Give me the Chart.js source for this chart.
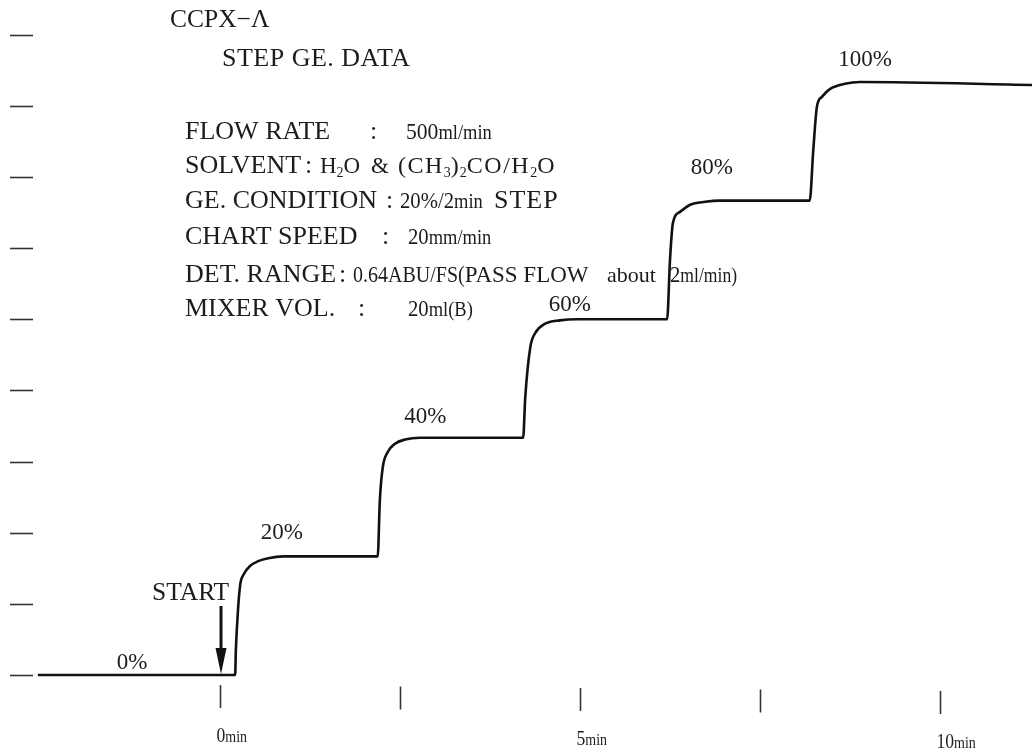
<!DOCTYPE html>
<html>
<head>
<meta charset="utf-8">
<script src="https://cdn.jsdelivr.net/npm/chart.js@4.4.1/dist/chart.umd.min.js"></script>
<style>
  html, body { margin: 0; padding: 0; background: #fff; }
  canvas { display: block; }
</style>
</head>
<body>
<canvas id="chart" width="1032" height="756"></canvas>
<script>
// Step gradient trace: time after start (min) vs. B-solvent concentration (%)
const timeMin = [
  -2.53, 0.21, 0.22, 0.25, 0.28, 0.33, 0.42, 0.53, 0.67, 0.88,
  2.19, 2.22, 2.26, 2.33, 2.43, 2.57, 2.78,
  4.21, 4.24, 4.31, 4.38, 4.51, 4.72, 4.96,
  6.21, 6.25, 6.29, 6.39, 6.53, 6.74, 6.94,
  8.19, 8.24, 8.29, 8.36, 8.47, 8.68, 8.89, 11.28
];
const gradientPct = [
  0, 0, 4.2, 11.0, 15.2, 17.0, 18.4, 19.2, 19.7, 20,
  20, 29.5, 35.0, 37.6, 39.0, 39.7, 40,
  40, 46.9, 55.3, 57.7, 59.2, 59.8, 60,
  60, 70.0, 76.2, 78.1, 79.3, 79.8, 80,
  80, 88.5, 95.8, 97.5, 98.8, 99.7, 100, 99.5
];

// Plateau labels
const stepLabels = ['0%', '20%', '40%', '60%', '80%', '100%'];

// Recorder chart-paper divisions (every 12 % of full scale) and time marks
const yTickPct = [0, 12, 24, 36, 48, 60, 72, 84, 96, 108];
const xTickMin = [0, 2.5, 5, 7.5, 10];
const xTickLabels = ['0', '', '5', '', '10'];
const xTickUnit = 'min';

const titleLines = ['CCPX\u2212\u039B', 'STEP GE. DATA'];

const SERIF = '"Liberation Serif", "Times New Roman", serif';
const INK = '#1c1c1c';

// Run-based text: subscripts and the small unit glyphs stay real text.
// {at} jumps to an absolute x, {gap} adds space, s = size, sx = horizontal squeeze, ls = letter spacing
const M = 26, N = 23, U = 21, S = 14;
const conditionLines = [
  [{t: 'FLOW RATE', s: M}, {at: 370}, {t: ':', s: M}, {at: 406}, {t: '500', s: 24, sx: 0.9}, {t: 'ml/min', s: U, sx: 0.88}],
  [{t: 'SOLVENT', s: M}, {at: 305}, {t: ':', s: M}, {at: 320}, {t: 'H', s: N}, {t: '2', s: S, dy: 4}, {t: 'O', s: N},
   {at: 371}, {t: '&', s: N}, {at: 398}, {t: '(CH', s: 24, ls: 1.5}, {t: '3', s: S, dy: 4}, {t: ')', s: 24, ls: 1}, {t: '2', s: S, dy: 4},
   {t: 'CO/H', s: 24, ls: 1.5}, {t: '2', s: S, dy: 4}, {t: 'O', s: 24}],
  [{t: 'GE. CONDITION', s: M}, {at: 386}, {t: ':', s: M}, {at: 400}, {t: '20%/2', s: N, sx: 0.9}, {t: 'min', s: U, sx: 0.88},
   {at: 494}, {t: 'STEP', s: M, ls: 1}],
  [{t: 'CHART SPEED', s: M}, {at: 382}, {t: ':', s: M}, {at: 408}, {t: '20', s: N, sx: 0.9}, {t: 'mm/min', s: U, sx: 0.88}],
  [{t: 'DET. RANGE', s: M}, {at: 339}, {t: ':', s: M}, {at: 353}, {t: '0.64ABU/FS(', s: N, sx: 0.87}, {t: 'PASS FLOW', s: N},
   {at: 607}, {t: 'about', s: 22}, {at: 670}, {t: '2', s: N, sx: 0.9}, {t: 'ml/min)', s: 20, sx: 0.88}],
  [{t: 'MIXER VOL.', s: M}, {at: 358}, {t: ':', s: M}, {at: 408}, {t: '20', s: N, sx: 0.9}, {t: 'ml(B)', s: U, sx: 0.88}]
];

function drawRuns(ctx, x, y, runs) {
  for (const r of runs) {
    if (r.at !== undefined) { x = r.at; continue; }
    if (r.gap) { x += r.gap; continue; }
    const sx = r.sx || 1;
    ctx.font = r.s + 'px ' + SERIF;
    ctx.letterSpacing = (r.ls || 0) + 'px';
    ctx.save();
    ctx.translate(x, y + (r.dy || 0));
    ctx.scale(sx, 1);
    ctx.fillText(r.t, 0, 0);
    ctx.restore();
    x += ctx.measureText(r.t).width * sx;
    ctx.letterSpacing = '0px';
  }
  return x;
}

const recorderMarks = {
  id: 'recorderMarks',
  afterDatasetsDraw(chart) {
    const ctx = chart.ctx;
    const xs = chart.scales.x, ys = chart.scales.y;
    ctx.save();
    ctx.fillStyle = INK;
    ctx.strokeStyle = '#333';
    ctx.textBaseline = 'alphabetic';

    // chart-paper divisions at the left edge
    ctx.lineWidth = 1.6;
    yTickPct.forEach(v => {
      const py = Math.round(ys.getPixelForValue(v)) + 0.5;
      ctx.beginPath(); ctx.moveTo(10, py); ctx.lineTo(33, py); ctx.stroke();
    });

    // time marks below the trace
    const base = ys.getPixelForValue(0);
    xTickMin.forEach((t, i) => {
      const px = Math.round(xs.getPixelForValue(t)) + 0.5;
      const drop = i * 1.5;
      ctx.lineWidth = 1.6;
      ctx.beginPath(); ctx.moveTo(px, base + 10 + drop); ctx.lineTo(px, base + 33 + drop); ctx.stroke();
      if (xTickLabels[i]) {
        drawRuns(ctx, px - 4, base + 67 + drop, [
          {t: xTickLabels[i], s: 22, sx: 0.8},
          {t: xTickUnit, s: 17, sx: 0.82}
        ]);
      }
    });

    // plateau labels
    const labelAnchors = [[-1.22, 2.0], [0.86, 23.9], [2.85, 43.5], [4.86, 62.4], [6.83, 85.5], [8.96, 103.7]];
    ctx.font = '23px ' + SERIF;
    ctx.textAlign = 'center';
    ctx.textBaseline = 'middle';
    stepLabels.forEach((txt, i) => {
      ctx.fillText(txt, xs.getPixelForValue(labelAnchors[i][0]), ys.getPixelForValue(labelAnchors[i][1]));
    });

    // START arrow at 0 min
    const ax = xs.getPixelForValue(0) + 1;
    const tip = base - 1;
    ctx.strokeStyle = '#111';
    ctx.lineWidth = 3;
    ctx.beginPath(); ctx.moveTo(ax, tip - 68); ctx.lineTo(ax, tip - 22); ctx.stroke();
    ctx.fillStyle = '#111';
    ctx.beginPath();
    ctx.moveTo(ax - 5.5, tip - 26); ctx.lineTo(ax + 5.5, tip - 26); ctx.lineTo(ax, tip); ctx.closePath(); ctx.fill();
    ctx.fillStyle = INK;
    ctx.textAlign = 'left';
    ctx.textBaseline = 'alphabetic';
    drawRuns(ctx, 152, tip - 74, [{t: 'START', s: 25.5}]);

    // header and run conditions
    drawRuns(ctx, 170, 27, [{t: titleLines[0], s: 25.5}]);
    drawRuns(ctx, 222, 66, [{t: titleLines[1], s: 26, ls: 0.5}]);
    const baselines = [139, 173, 208, 244, 282, 316];
    conditionLines.forEach((runs, i) => drawRuns(ctx, 185, baselines[i], runs));

    ctx.restore();
  }
};

new Chart(document.getElementById('chart'), {
  type: 'line',
  data: {
    datasets: [{
      data: timeMin.map((t, i) => ({x: t, y: gradientPct[i]})),
      borderColor: '#111',
      borderWidth: 2.6,
      pointRadius: 0,
      fill: false,
      cubicInterpolationMode: 'monotone'
    }]
  },
  options: {
    responsive: false,
    animation: false,
    devicePixelRatio: 1,
    events: [],
    layout: {padding: 0},
    scales: {
      x: {type: 'linear', min: -3.056, max: 11.278, display: false},
      y: {type: 'linear', min: -13.66, max: 113.83, display: false}
    },
    plugins: {legend: {display: false}, tooltip: {enabled: false}}
  },
  plugins: [recorderMarks]
});
</script>
</body>
</html>
